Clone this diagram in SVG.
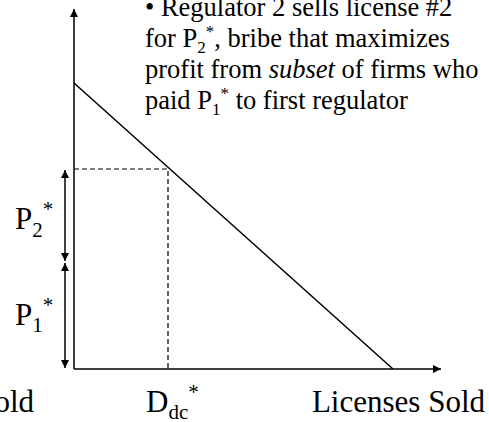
<svg xmlns="http://www.w3.org/2000/svg" width="489" height="422" viewBox="0 0 489 422">
<style>
.ax{stroke:#000;stroke-width:1.5;fill:none}
.dash{stroke:#000;stroke-width:1.2;stroke-dasharray:5,3;fill:none}
.t{font-family:"Liberation Serif",serif;fill:#000}
</style>
<defs>
<marker id="ah" viewBox="0 0 10 10" refX="10" refY="5" markerWidth="8" markerHeight="8" markerUnits="userSpaceOnUse" orient="auto">
<path d="M0,0 L10,5 L0,10 z" fill="#000"/>
</marker>
</defs>
<rect width="489" height="422" fill="#fff"/>
<g id="connectors">
<line class="ax" x1="74" y1="369" x2="74" y2="9" marker-end="url(#ah)"/>
<line class="ax" x1="74" y1="369" x2="441" y2="369" marker-end="url(#ah)"/>
<line class="ax" x1="74" y1="83" x2="393" y2="369"/>
<polyline class="dash" points="74,169 168,169 168,369"/>
<line class="ax" x1="65" y1="215" x2="65" y2="170" marker-end="url(#ah)"/>
<line class="ax" x1="65" y1="215" x2="65" y2="261" marker-end="url(#ah)"/>
<line class="ax" x1="65" y1="315" x2="65" y2="263" marker-end="url(#ah)"/>
<line class="ax" x1="65" y1="315" x2="65" y2="368" marker-end="url(#ah)"/>
</g>
<g id="note">
<text class="t" font-family="Liberation Serif" font-size="26.5px" x="145" y="16">• Regulator 2 sells license #2</text>
<text class="t" font-family="Liberation Serif" font-size="26.5px" x="145" y="47">for P<tspan font-size="17px" dy="6">2</tspan><tspan font-size="17px" dy="-16">*</tspan><tspan dy="10">, bribe that maximizes</tspan></text>
<text class="t" font-family="Liberation Serif" font-size="26.5px" x="145" y="78">profit from <tspan font-style="italic">subset</tspan> of firms who</text>
<text class="t" font-family="Liberation Serif" font-size="26.5px" x="145" y="109">paid P<tspan font-size="17px" dy="6">1</tspan><tspan font-size="17px" dy="-16">*</tspan><tspan dy="10"> to first regulator</tspan></text>
</g>
<g id="label-p2">
<text class="t" font-size="31px" x="15" y="229">P<tspan font-size="21px" dy="8">2</tspan><tspan font-size="21px" dy="-21">*</tspan></text>
</g>
<g id="label-p1">
<text class="t" font-size="31px" x="15" y="325">P<tspan font-size="21px" dy="7">1</tspan><tspan font-size="21px" dy="-20">*</tspan></text>
</g>
<g id="label-ddc">
<text class="t" font-size="31px" x="146" y="412">D<tspan font-size="21px" dy="7">dc</tspan><tspan font-size="21px" dy="-20">*</tspan></text>
</g>
<g id="label-x">
<text class="t" font-size="31px" x="485" y="412" text-anchor="end">Licenses Sold</text>
</g>
<g id="label-x-prev">
<text class="t" font-size="31px" x="34" y="412" text-anchor="end">Licenses Sold</text>
</g>
</svg>
